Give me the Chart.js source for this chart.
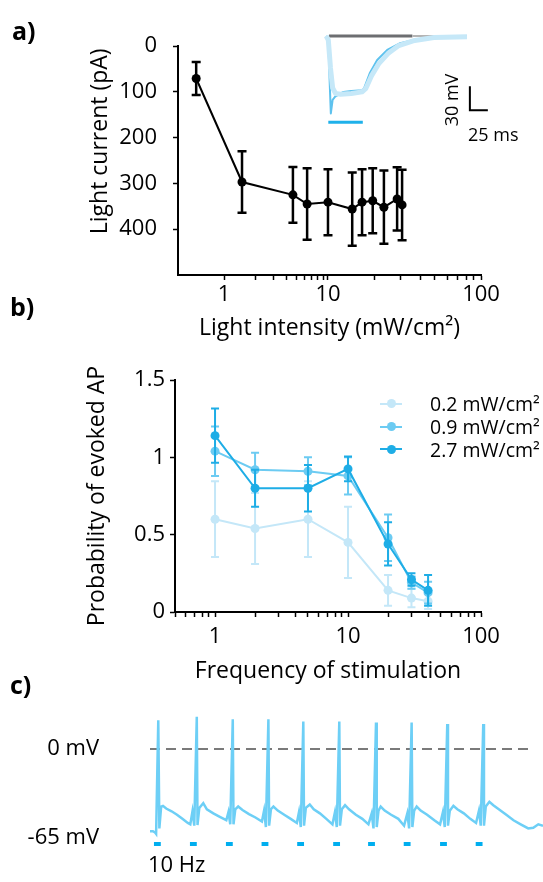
<!DOCTYPE html>
<html>
<head>
<meta charset="utf-8">
<script src="https://cdn.jsdelivr.net/npm/chart.js@4.4.1/dist/chart.umd.min.js"></script>
<style>
    html, body { margin: 0; padding: 0; background: #fff; }
    #figure { position: relative; width: 543px; height: 882px; overflow: hidden; font-family: 'Open Sans', sans-serif; color: #000; }
    #figure canvas { position: absolute; }
    .panelLabel { position: absolute; font-weight: bold; font-size: 25px; line-height: 1; transform: translateY(-50%); }
    .note { position: absolute; white-space: nowrap; line-height: 1; }
    #legendSide { position: absolute; left: 380px; top: 392.5px; font-size: 19.5px; }
    #legendSide div { height: 22.7px; display: flex; align-items: center; white-space: nowrap; }
    #legendSide .mark { position: relative; display: inline-block; width: 22px; height: 10px; margin-right: 28px; }
    #legendSide .mark i { position: absolute; left: 0; right: 0; top: 4px; height: 2px; }
    #legendSide .mark b { position: absolute; left: 6.5px; top: 0.5px; width: 9px; height: 9px; border-radius: 50%; }
</style>
</head>
<body>
<div id="figure">
    <canvas id="chartA" width="543" height="345" style="left:0;top:0"></canvas>
    <canvas id="chartInset" width="166" height="95" style="left:324px;top:32px"></canvas>
    <canvas id="chartB" width="543" height="345" style="left:0;top:345px"></canvas>
    <canvas id="chartC" width="543" height="160" style="left:0;top:700px"></canvas>

    <div class="panelLabel" style="left:12px;top:30px">a)</div>
    <div class="panelLabel" style="left:10px;top:306px">b)</div>
    <div class="panelLabel" style="left:10px;top:684px">c)</div>

    <div class="note" style="left:451px;top:100px;font-size:18px;transform:translate(-50%,-50%) rotate(-90deg)">30 mV</div>
    <div class="note" style="left:468px;top:134px;font-size:18px;transform:translateY(-50%)">25 ms</div>
    <div class="note" style="left:148px;top:863px;font-size:22px;transform:translateY(-50%)">10 Hz</div>

    <div id="legendSide"></div>
</div>

<script>
"use strict";

// ---- panel a: light current vs intensity ----
var intensity = [0.54, 1.49, 4.6, 6.3, 10, 14.4, 16.7, 19.6, 23.2, 28.3, 30.5];
var lightCurrent = [71, 297, 325, 345, 341, 356, 341, 338, 352, 334, 347];
var lightCurrentErr = [36, 67, 61, 78, 72, 80, 72, 71, 80, 69, 77];
var intensityTicks = [1, 2, 3, 4, 5, 6, 7, 8, 9, 10, 20, 30, 40, 50, 60, 70, 80, 90, 100];
var currentTicks = [0, 100, 200, 300, 400];

// inset traces (ms, mV as given by the scale bar)
var insetTime = [0, 3, 5, 6.5, 9, 12.5, 24, 35, 50, 53, 61, 71, 85, 103, 126, 158, 196];
var insetMv = [0, -3, -60, -97, -80, -76, -70, -69, -68, -65, -46, -30, -17.5, -9, -4, -1.5, -1];
var paleTime = [0, 3, 6, 9, 13, 20, 35, 50, 55, 63, 73, 86, 101, 121, 150, 196];
var paleMv = [0, -5, -40, -65, -72, -73, -72, -70, -66, -50, -35, -22, -12, -6, -2, -1];
var baselineTime = [4, 120];
var baselineTailTime = [120, 196];
var insetLightOn = [3, 51];
var scaleBarMs = 25;
var scaleBarMv = 30;

// ---- panel b: probability of evoked AP ----
var freqHz = [1, 2, 5, 10, 20, 30, 40];
var prob02 = [0.60, 0.54, 0.60, 0.45, 0.14, 0.09, 0.07];
var err02 = [0.245, 0.23, 0.245, 0.23, 0.10, 0.06, 0.05];
var prob09 = [1.04, 0.92, 0.91, 0.88, 0.48, 0.19, 0.125];
var err09 = [0.16, 0.11, 0.09, 0.12, 0.15, 0.04, 0.07];
var prob27 = [1.14, 0.80, 0.80, 0.925, 0.44, 0.21, 0.14];
var err27 = [0.175, 0.12, 0.15, 0.08, 0.14, 0.04, 0.10];
var freqTicks = [0.5, 0.6, 0.7, 0.8, 0.9, 1, 2, 3, 4, 5, 6, 7, 8, 9, 10, 20, 30, 40, 50, 60, 70, 80, 90, 100];
var probTicks = [0, 0.5, 1, 1.5];
var decadeLabels = [1, 10, 100];

// ---- panel c: 10 Hz train ----
var traceTime = [
    0, 8, 14, 17, 23, 26, 31, 36, 45, 60, 75, 90, 105,
    112, 118, 123, 130, 132, 137, 148, 158, 176, 194, 212,
    218, 223, 230, 232, 237, 245, 257, 275, 293, 311,
    317, 322, 329, 331, 336, 343, 355, 373, 391, 408,
    414, 419, 426, 428, 433, 444, 455, 472, 490, 507,
    514, 519, 526, 528, 533, 542, 553, 572, 590, 607,
    616, 621, 628, 630, 635, 641, 652, 670, 690, 706,
    715, 720, 727, 729, 734, 741, 752, 770, 790, 806,
    814, 819, 826, 828, 833, 843, 854, 872, 890, 906,
    914, 919, 926, 928, 933, 943, 954, 972, 990, 1010, 1030, 1051, 1065, 1079, 1092
];
var traceMv = [
    -60, -60, -61, -62, 21, -58, -42, -41.5, -43.5, -45.5, -48, -51, -54,
    -55, -45.5, -56, 23.6, -55.5, -43, -39.5, -44, -47, -49.5, -52,
    -46, -55, 21.7, -55, -44, -42, -44.5, -47.5, -50, -53,
    -45, -57, 21.7, -56, -44, -42, -45, -48, -51, -54,
    -46, -57, 20, -56, -43, -40.5, -44, -47, -51, -55,
    -46, -57, 20, -56, -44, -41, -44, -48, -51, -55,
    -47, -58, 19.3, -57, -45, -42, -45, -48, -51, -56,
    -47, -58, 19.3, -57, -45, -42, -45, -48, -52, -55,
    -46, -57, 18.2, -56, -45, -41.5, -44, -47, -51, -54,
    -45, -56, 18.2, -56, -42, -38.5, -41, -44.5, -48, -52, -55, -58, -57.5, -55, -56
];
var stimOn = [11, 111, 211, 310, 409, 509, 606, 705, 806, 905];
var pulseMs = 19;
var markerMv = -69.4;
var zeroLineEnd = 1061;
var voltageTicks = [0, -65];

Chart.defaults.font.family = "'Open Sans', sans-serif";
Chart.defaults.color = '#000';

// log axis whose two decades are drawn at different widths, as in the figure
class SplitLogScale extends Chart.LogarithmicScale {
    getPixelForValue(value) {
        if (value === undefined || value === 0) value = this.min;
        if (value === null || isNaN(value)) return NaN;
        var lo = Math.log10(this.min);
        var mid = Math.log10(this.options.splitAt);
        var hi = Math.log10(this.max);
        var f = this.options.splitFraction;
        var l = Math.log10(value);
        var d = l <= mid ? f * (l - lo) / (mid - lo) : f + (1 - f) * (l - mid) / (hi - mid);
        return this.getPixelForDecimal(d);
    }
}
SplitLogScale.id = 'splitLog';
SplitLogScale.defaults = {};
Chart.register(SplitLogScale);

var errorBars = {
    id: 'errorBars',
    afterDatasetDraw: function (chart, args) {
        var ds = chart.data.datasets[args.index];
        if (!ds.errors) return;
        var ctx = chart.ctx;
        var xs = chart.scales.x, ys = chart.scales.y;
        var cap = ds.capHalf || 4;
        ctx.save();
        ctx.strokeStyle = ds.borderColor;
        ctx.lineWidth = ds.errorWidth || 2;
        ds.data.forEach(function (pt, i) {
            var x = xs.getPixelForValue(pt.x);
            var top = ys.getPixelForValue(pt.y + ds.errors[i]);
            var bot = ys.getPixelForValue(pt.y - ds.errors[i]);
            ctx.beginPath();
            ctx.moveTo(x, top); ctx.lineTo(x, bot);
            ctx.moveTo(x - cap, top); ctx.lineTo(x + cap, top);
            ctx.moveTo(x - cap, bot); ctx.lineTo(x + cap, bot);
            ctx.stroke();
        });
        ctx.restore();
    }
};

function xy(xs, ys) {
    return xs.map(function (x, i) { return {x: x, y: ys[i]}; });
}

function flat(xs, y) {
    return xs.map(function (x) { return {x: x, y: y}; });
}

function decadeLabel(v) {
    return decadeLabels.indexOf(v) >= 0 ? String(v) : '';
}

function setTicks(values) {
    return function (scale) {
        scale.ticks = values.map(function (v) { return {value: v}; });
    };
}

var axisGrid = {drawOnChartArea: false, drawTicks: true, tickLength: 5, tickWidth: 1.5, tickColor: '#000'};
var axisBorder = {color: '#000', width: 2};
var quiet = {legend: {display: false}, tooltip: {enabled: false}};

// panel a
new Chart(document.getElementById('chartA'), {
    type: 'line',
    data: {
        datasets: [{
            data: xy(intensity, lightCurrent),
            errors: lightCurrentErr,
            borderColor: '#000',
            backgroundColor: '#000',
            borderWidth: 2,
            pointRadius: 4.5,
            pointBorderWidth: 0,
            tension: 0,
            errorWidth: 2.5,
            capHalf: 4.5,
            clip: false
        }]
    },
    options: {
        responsive: false,
        animation: false,
        events: [],
        layout: {padding: {top: 46, right: 62, bottom: 0, left: 0}},
        plugins: quiet,
        scales: {
            x: {
                type: 'splitLog', min: 0.361, max: 100, splitAt: 10, splitFraction: 0.495,
                afterBuildTicks: setTicks(intensityTicks),
                afterFit: function (s) { s.height = 70; },
                grid: axisGrid,
                border: axisBorder,
                ticks: {autoSkip: false, maxRotation: 0, padding: 2, font: {size: 22}, callback: decadeLabel},
                title: {display: true, text: 'Light intensity (mW/cm²)', font: {size: 23}, padding: {top: 0, bottom: 3}}
            },
            y: {
                type: 'linear', reverse: true, min: 0, max: 500,
                afterBuildTicks: setTicks(currentTicks),
                afterFit: function (s) { s.width = 178; },
                grid: axisGrid,
                border: axisBorder,
                ticks: {padding: 16, font: {size: 22}},
                title: {display: true, text: '\u2003\u2002\u2009Light current (pA)', font: {size: 23}, padding: {top: 87, bottom: 0}}
            }
        }
    },
    plugins: [errorBars]
});

// inset
new Chart(document.getElementById('chartInset'), {
    type: 'line',
    data: {
        datasets: [
            {data: xy(paleTime, paleMv), borderColor: '#c6e8f8', borderWidth: 5, borderJoinStyle: 'round'},
            {data: xy(insetTime, insetMv), borderColor: '#5ec2ee', borderWidth: 2, borderJoinStyle: 'round'},
            {data: flat(baselineTailTime, 0), borderColor: '#b4b4b4', borderWidth: 2},
            {data: flat(baselineTime, 0), borderColor: '#6d6e71', borderWidth: 3},
            {data: flat(insetLightOn, -108), borderColor: '#1fb1ea', borderWidth: 3},
            {
                data: [{x: 200, y: -63}, {x: 200, y: -63 - scaleBarMv}, {x: 200 + scaleBarMs, y: -63 - scaleBarMv}],
                borderColor: '#000', borderWidth: 2
            }
        ]
    },
    options: {
        responsive: false,
        animation: false,
        events: [],
        plugins: quiet,
        elements: {point: {radius: 0}, line: {tension: 0}},
        datasets: {line: {clip: false}},
        scales: {
            x: {type: 'linear', display: false, min: -3, max: 228},
            y: {type: 'linear', display: false, min: -114, max: 5}
        }
    }
});

// panel b
var chartB = new Chart(document.getElementById('chartB'), {
    type: 'line',
    data: {
        datasets: [
            {label: '0.2 mW/cm²', data: xy(freqHz, prob02), errors: err02, borderColor: '#c4e7f8', backgroundColor: '#c4e7f8', order: 3},
            {label: '0.9 mW/cm²', data: xy(freqHz, prob09), errors: err09, borderColor: '#6ccbf2', backgroundColor: '#6ccbf2', order: 2},
            {label: '2.7 mW/cm²', data: xy(freqHz, prob27), errors: err27, borderColor: '#1eade6', backgroundColor: '#1eade6', order: 1}
        ]
    },
    options: {
        responsive: false,
        animation: false,
        events: [],
        layout: {padding: {top: 35, right: 62, bottom: 0, left: 0}},
        plugins: quiet,
        datasets: {line: {borderWidth: 2, pointRadius: 4.5, pointBorderWidth: 0, tension: 0, clip: false, errorWidth: 3, capHalf: 4}},
        scales: {
            x: {
                type: 'logarithmic', min: 0.5, max: 100,
                afterBuildTicks: setTicks(freqTicks),
                afterFit: function (s) { s.height = 78; },
                grid: axisGrid,
                border: axisBorder,
                ticks: {autoSkip: false, maxRotation: 0, padding: 7, font: {size: 22}, callback: decadeLabel},
                title: {display: true, text: 'Frequency of stimulation', font: {size: 23}, padding: {top: 0, bottom: 5}}
            },
            y: {
                type: 'linear', min: 0, max: 1.5,
                afterBuildTicks: setTicks(probTicks),
                afterFit: function (s) { s.width = 175; },
                grid: axisGrid,
                border: axisBorder,
                ticks: {padding: 5, font: {size: 22}, callback: function (v) { return String(v); }},
                title: {display: true, text: 'Probability of evoked AP', font: {size: 23}, padding: {top: 84, bottom: 0}}
            }
        }
    },
    plugins: [errorBars]
});

function buildLegend(chart) {
    var box = document.getElementById('legendSide');
    chart.data.datasets.forEach(function (ds) {
        var row = document.createElement('div');
        var mark = document.createElement('span');
        mark.className = 'mark';
        mark.innerHTML = '<i style="background:' + ds.borderColor + '"></i><b style="background:' + ds.borderColor + '"></b>';
        row.appendChild(mark);
        row.appendChild(document.createTextNode(ds.label));
        box.appendChild(row);
    });
}
buildLegend(chartB);

// panel c
var stimData = [];
stimOn.forEach(function (t) {
    stimData.push({x: t, y: markerMv}, {x: t + pulseMs, y: markerMv}, {x: t + pulseMs, y: null});
});

new Chart(document.getElementById('chartC'), {
    type: 'line',
    data: {
        datasets: [
            {data: xy(traceTime, traceMv), borderColor: '#6dcff6', borderWidth: 2.5, order: 1},
            {data: flat([0, zeroLineEnd], 0), borderColor: '#7a7a7a', borderWidth: 2.2, borderDash: [10, 6], order: 2},
            {data: stimData, borderColor: '#00aeef', borderWidth: 4, borderCapStyle: 'butt', spanGaps: false, order: 3}
        ]
    },
    options: {
        responsive: false,
        animation: false,
        events: [],
        layout: {padding: {top: 13.4, right: 0, bottom: 12.4, left: 0}},
        plugins: quiet,
        elements: {point: {radius: 0}, line: {tension: 0}},
        datasets: {line: {clip: false}},
        scales: {
            x: {type: 'linear', display: false, min: 0, max: 1092},
            y: {
                type: 'linear', min: -72, max: 26,
                afterBuildTicks: setTicks(voltageTicks),
                // labels sit far from the trace; keep that gap from squeezing the plot height
                afterFit: function (s) { s.width = 150; s.paddingTop = 0; s.paddingBottom = 0; },
                grid: {display: false},
                border: {display: false},
                ticks: {padding: 43, font: {size: 22}, callback: function (v) { return v + ' mV'; }}
            }
        }
    }
});
</script>
</body>
</html>
